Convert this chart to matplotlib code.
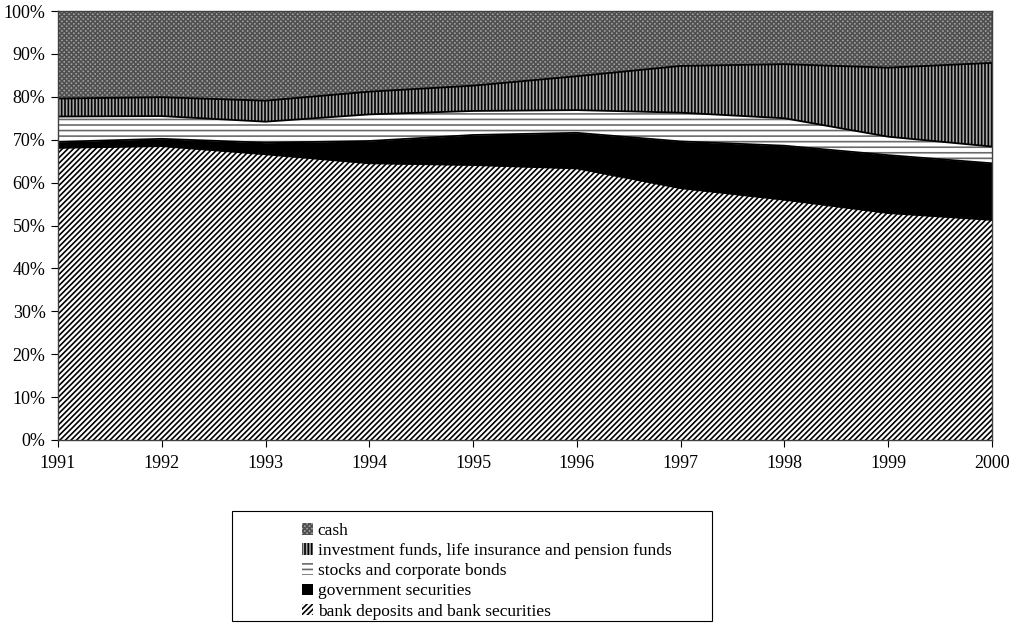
import matplotlib
matplotlib.use("Agg")
import matplotlib.pyplot as plt
from matplotlib.patches import Patch, Rectangle
from matplotlib.ticker import PercentFormatter

plt.rcParams['font.family'] = ['Liberation Serif', 'DejaVu Serif']
plt.rcParams['hatch.linewidth'] = 1.2

# data (shares in %)
years = [1991, 1992, 1993, 1994, 1995, 1996, 1997, 1998, 1999, 2000]
bank = [68.1, 68.5, 66.6, 64.5, 64.1, 63.3, 58.7, 56.0, 52.9, 51.3]
gov = [1.4, 1.7, 2.7, 5.2, 7.0, 8.3, 10.9, 12.6, 13.5, 13.2]
stocks = [5.9, 5.3, 4.9, 6.2, 5.6, 5.3, 6.7, 6.4, 4.3, 3.9]
invest = [4.2, 4.4, 4.9, 5.3, 5.9, 7.9, 10.9, 12.6, 16.1, 19.5]
cash = [20.4, 20.1, 20.9, 18.8, 17.4, 15.2, 12.8, 12.4, 13.2, 12.1]

labels = ["bank deposits and bank securities", "government securities",
          "stocks and corporate bonds",
          "investment funds, life insurance and pension funds", "cash"]
series = [bank, gov, stocks, invest, cash]
faces = ['white', 'black', 'white', '#a8a8a8', '#a4a4a4']
hatch_col = ['black', 'black', '#6a6a6a', 'black', '#505050']
hatches = ['//////', None, '---', '|||||', 'xxxxxxx']

fig = plt.figure(figsize=(10.09, 6.23), dpi=100)
ax = fig.add_axes([58 / 1009, 1 - 440 / 623, 934 / 1009, 429 / 623])

polys = ax.stackplot(years, *series, colors=faces)
for p, h, ec in zip(polys, hatches, hatch_col):
    p.set_hatch(h)
    p.set_edgecolor(ec)
    p.set_linewidth(0)

# boundary lines
cum = [0] * len(years)
for s in series[:-1]:
    cum = [a + b for a, b in zip(cum, s)]
    ax.plot(years, cum, color='black', lw=1.3)

ax.set_xlim(1991, 2000)
ax.set_ylim(0, 100)
ax.set_xticks(years)
ax.set_yticks(range(0, 101, 10))
ax.yaxis.set_major_formatter(PercentFormatter(decimals=0))
ax.tick_params(direction='out', length=5, labelsize=13, colors='black')
ax.tick_params(axis='x', pad=6)
ax.tick_params(axis='y', pad=4)
for sp in ax.spines.values():
    sp.set_color('#404040')
    sp.set_linewidth(1)

# legend
handles = []
for f, h, ec in zip(faces, hatches, hatch_col):
    handles.append(Patch(facecolor=f, hatch=h, edgecolor=ec, linewidth=0))
leg = fig.legend(handles[::-1], labels[::-1], loc='upper left',
                 bbox_to_anchor=(295 / 1009, 1 - 516 / 623), frameon=False,
                 fontsize=12.5, handlelength=0.65, handleheight=0.65,
                 handletextpad=0.25, labelspacing=0.24, borderaxespad=0)
fig.patches.append(Rectangle((232 / 1009, 1 - 621 / 623), 480 / 1009, 110 / 623,
                             transform=fig.transFigure, fill=False,
                             edgecolor='black', lw=0.8))

fig.savefig('out.png', dpi=100)
